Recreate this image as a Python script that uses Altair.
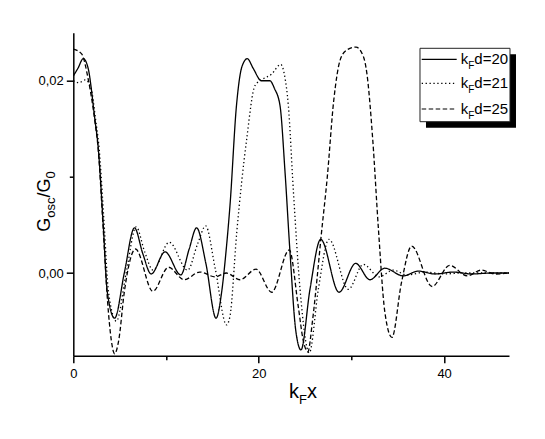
import altair as alt
import pandas as pd

# ---- data ----
x20 = [0, 0.5, 1.08, 1.6, 2.3, 2.7, 3.2, 3.67, 4.46, 5.5, 6.6, 7.5, 8.4, 9.9, 11.6, 12.5, 13.3, 14.3,
       15.4, 16.0, 16.5, 16.9, 17.6, 18.2, 18.77, 19.4, 20.3, 21.2, 21.7, 22.3, 22.84, 23.38, 24.0,
       24.56, 25.53, 26.69, 28.66, 30.46, 32.0, 33.6, 35.6, 37.2, 39.0, 41.0, 43.0, 45.0, 47.0]
y20 = [0.0205, 0.0213, 0.0223, 0.0213, 0.0162, 0.0129, 0.0055, -0.0020, -0.0047, 0.0000, 0.0047,
       0.0020, -0.0001, 0.0022, -0.0002, 0.0025, 0.0047, 0.0010, -0.0047, -0.0020, 0.0025, 0.0070,
       0.0174, 0.0215, 0.0223, 0.0213, 0.0200, 0.0200, 0.0192, 0.0174, 0.0105, 0.0021, -0.0060,
       -0.0080, -0.0017, 0.0035, -0.0020, 0.0010, -0.0007, 0.0005, -0.0003, 0.0002, -0.0001,
       0.0001, -0.0001, 0.0000, 0.0000]

x21 = [0, 0.6, 1.3, 1.9, 2.4, 2.8, 3.3, 3.8, 4.65, 5.7, 6.78, 7.7, 8.6, 10.35, 12.33, 13.4, 14.28,
       15.3, 16.53, 16.9, 17.63, 18.7, 19.6, 20.5, 21.4, 22.37, 22.8, 23.2, 23.73, 24.46, 25.46,
       26.43, 27.58, 29.67, 31.28, 33.0, 34.5, 36.0, 38.0, 40.0, 42.0, 47.0]
y21 = [0.0200, 0.0198, 0.0201, 0.0193, 0.0160, 0.0128, 0.0055, -0.0020, -0.0050, 0.0000, 0.0048,
       0.0022, 0.0003, 0.0032, 0.0003, 0.0030, 0.0049, 0.0005, -0.0054, -0.0045, 0.0042, 0.0139,
       0.0195, 0.0202, 0.0207, 0.0217, 0.0205, 0.0174, 0.0087, -0.0017, -0.0083, -0.0017, 0.0035,
       -0.0017, 0.0009, -0.0004, 0.0003, -0.0002, 0.0001, -0.0001, 0.0000, 0.0000]

x25 = [0, 0.9, 1.6, 2.3, 2.7, 3.2, 3.7, 4.1, 4.46, 4.9, 5.5, 6.71, 8.58, 10.27, 11.96, 13.64, 15.3,
       16.5, 17.98, 19.71, 21.4, 23.3, 24.27, 24.8, 25.3, 25.8, 26.3, 26.7, 27.4, 28.1, 28.8, 29.5,
       30.5, 31.3, 31.65, 32.3, 32.9, 33.6, 34.37, 35.4, 36.5, 38.7, 40.6, 42.5, 44.0, 45.5, 47.0]
y25 = [0.0233, 0.0228, 0.0202, 0.0160, 0.0127, 0.0050, -0.0030, -0.0070, -0.0084, -0.0070, -0.0020,
       0.0025, -0.0019, 0.0006, -0.0007, 0.0001, -0.0004, 0.0000, -0.0007, 0.0004, -0.0020, 0.0024,
       -0.0035, -0.0070, -0.0082, -0.0050, -0.0005, 0.0035, 0.0100, 0.0180, 0.0222, 0.0232, 0.0235,
       0.0225, 0.0209, 0.0139, 0.0048, -0.0040, -0.0067, -0.0010, 0.0028, -0.0014, 0.0008, -0.0003,
       0.0003, -0.0001, 0.0000]

series_names = ["kFd=20", "kFd=21", "kFd=25"]
legend_numbers = ["d=20", "d=21", "d=25"]
x_ticks = [0, 10, 20, 30, 40]
y_ticks = [0, 0.01, 0.02]

frames = []
for name, xs, ys in zip(series_names, [x20, x21, x25], [y20, y21, y25]):
    frames.append(pd.DataFrame({"x": xs, "y": ys, "series": name}))
df = pd.concat(frames, ignore_index=True)

W, H = 435.7, 323
FONT = "Liberation Sans"
dashes = [[1, 0], [1.3, 2.6], [4.5, 2.5]]

lines = alt.Chart(df).mark_line(color="black", strokeWidth=1.3, interpolate="monotone", clip=True).encode(
    x=alt.X("x:Q", scale=alt.Scale(domain=[0, 47], nice=False, zero=False),
            axis=alt.Axis(values=x_ticks, title=None, format="d",
                          labelExpr="datum.value % 20 === 0 ? datum.label : ''",
                          tickSize={"condition": {"test": "datum.value % 20 !== 0", "value": 4}, "value": 7},
                          labelPadding=5, labelFlush=False, labelOverlap=False)),
    y=alt.Y("y:Q", scale=alt.Scale(domain=[-0.0086, 0.0250], nice=False, zero=False),
            axis=alt.Axis(values=y_ticks, title=None,
                          labelExpr="abs(datum.value - 0.01) < 1e-6 ? '' : replace(format(datum.value, '.2f'), '.', ',')",
                          tickSize={"condition": {"test": "abs(datum.value - 0.01) < 1e-6", "value": 4}, "value": 7},
                          labelPadding=3, labelFlush=False, labelOverlap=False)),
    strokeDash=alt.StrokeDash("series:N", scale=alt.Scale(domain=series_names, range=dashes), legend=None),
)

one = pd.DataFrame({"a": [0]})


def txt(s, x, y, size, angle=0):
    props = dict(text=s, align="left", baseline="alphabetic", font=FONT, fontSize=size, color="black")
    if angle:
        props["angle"] = angle
    return alt.Chart(one).mark_text(**props).encode(x=alt.value(x), y=alt.value(y))


layers = [lines]

# legend: shadow + box
layers.append(alt.Chart(one).mark_rect(color="black").encode(
    x=alt.value(352.7), x2=alt.value(442.7), y=alt.value(21.6), y2=alt.value(95)))
layers.append(alt.Chart(one).mark_rect(fill="white", stroke="#222222", strokeWidth=1).encode(
    x=alt.value(346.7), x2=alt.value(436.7), y=alt.value(15.6), y2=alt.value(89)))
for ly, dash, num in zip([26.6, 50.6, 76.3], dashes, legend_numbers):
    layers.append(alt.Chart(one).mark_rule(color="black", strokeWidth=1.2, strokeDash=dash).encode(
        x=alt.value(348.4), x2=alt.value(383.4), y=alt.value(ly)))
    layers.append(txt("k", 387.4, ly + 5, 15))
    layers.append(txt("F", 394.9, ly + 10, 10))
    layers.append(txt(num, 401.0, ly + 5, 15))

# x-axis title k_F x
layers.append(txt("k", 215.7, 365.3, 20))
layers.append(txt("F", 225.7, 371.3, 13))
layers.append(txt("x", 233.6, 365.3, 20))

# y-axis title G_osc/G_0 (rotated)
layers.append(txt("G", -23.3, 199.0, 18, 270))
layers.append(txt("osc", -18.3, 185.0, 13, 270))
layers.append(txt("/", -23.3, 164.8, 18, 270))
layers.append(txt("G", -23.3, 159.8, 18, 270))
layers.append(txt("0", -18.3, 145.8, 13, 270))

chart = alt.layer(*layers).properties(
    width=W, height=H,
    autosize=alt.AutoSizeParams(type="none"),
    padding={"left": 65.3, "top": 24.7, "right": 20, "bottom": 60},
).configure_view(strokeWidth=0).configure_axis(
    grid=False, domainColor="black", domainWidth=1.5, tickColor="black", tickWidth=1.5,
    labelFont=FONT, labelFontSize=13, labelColor="black",
)

chart.save("out.html", embed_options={"renderer": "svg", "actions": False})
